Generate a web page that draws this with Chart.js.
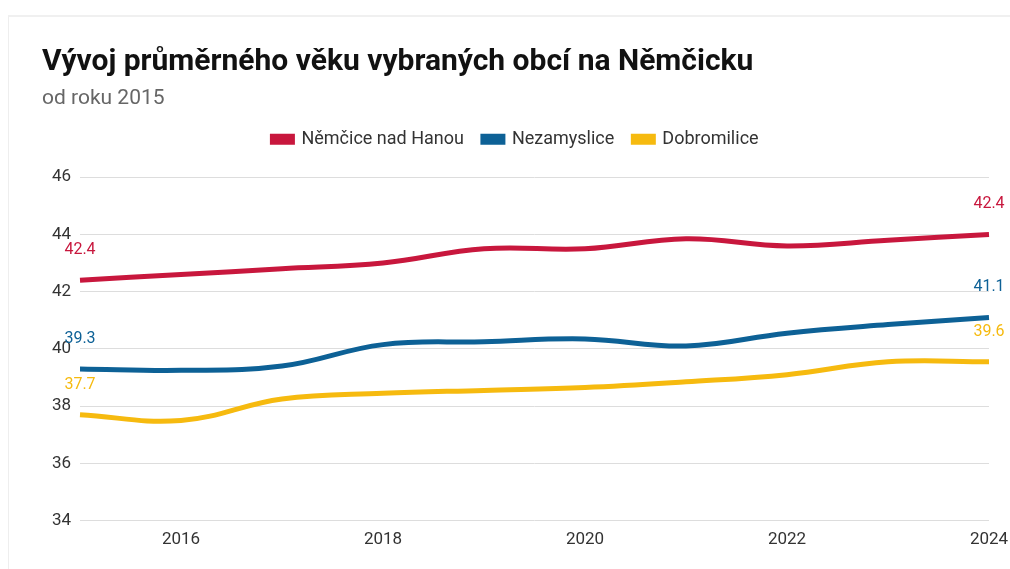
<!DOCTYPE html>
<html>
<head>
<meta charset="utf-8">
<script src="https://cdn.jsdelivr.net/npm/chart.js@4/dist/chart.umd.min.js"></script>
<style>
  html, body { margin: 0; padding: 0; background: #fff; }
  #card {
    position: absolute; left: 8px; top: 15px; width: 1010px; height: 560px;
    border-left: 1px solid #eee; border-top: 2px solid #f0f0f0;
  }
  #wrap { position: absolute; left: 0; top: 0; width: 1010px; height: 569px; }
</style>
</head>
<body>
<div id="card"></div>
<div id="wrap"><canvas id="chart"></canvas></div>
<script>
const years = ["2015", "2016", "2017", "2018", "2019", "2020", "2021", "2022", "2023", "2024"];
const xTickLabels = ["2016", "2018", "2020", "2022", "2024"];
const yTicks = [34, 36, 38, 40, 42, 44, 46];

const nemcice = [42.4, 42.6, 42.8, 43.0, 43.5, 43.5, 43.85, 43.6, 43.8, 44.0];
const nezamyslice = [39.3, 39.25, 39.4, 40.15, 40.25, 40.35, 40.1, 40.55, 40.85, 41.1];
const dobromilice = [37.7, 37.5, 38.25, 38.45, 38.55, 38.65, 38.85, 39.1, 39.55, 39.55];

// texts shown above the first and last point of each line (as in the source)
const startLabels = ["42.4", "39.3", "37.7"];
const endLabels = ["42.4", "41.1", "39.6"];

const RED = "#c8173d";
const BLUE = "#0d6196";
const YELLOW = "#f6ba0f";

const endLabelPlugin = {
  id: "endLabels",
  afterInit(chart) {
    // extra room under the legend row
    const legend = chart.legend;
    if (!legend) return;
    const fit = legend.fit;
    legend.fit = function () {
      fit.call(this);
      this.height += 19;
    };
  },
  afterDatasetsDraw(chart) {
    const ctx = chart.ctx;
    ctx.save();
    ctx.font = "16px Roboto";
    ctx.textAlign = "center";
    ctx.textBaseline = "middle";
    chart.data.datasets.forEach((ds, i) => {
      const pts = chart.getDatasetMeta(i).data;
      const first = pts[0];
      const last = pts[pts.length - 1];
      ctx.fillStyle = ds.borderColor;
      ctx.fillText(startLabels[i], first.x, first.y - 30);
      ctx.fillText(endLabels[i], last.x, last.y - 30);
    });
    ctx.restore();
  },
};

new Chart(document.getElementById("chart"), {
  type: "line",
  data: {
    labels: years,
    datasets: [
      { label: "Němčice nad Hanou", data: nemcice, borderColor: RED, backgroundColor: RED },
      { label: "Nezamyslice", data: nezamyslice, borderColor: BLUE, backgroundColor: BLUE },
      { label: "Dobromilice", data: dobromilice, borderColor: YELLOW, backgroundColor: YELLOW },
    ],
  },
  options: {
    responsive: true,
    maintainAspectRatio: false,
    animation: false,
    layout: { padding: { left: 42, right: 21, top: 44, bottom: 10 } },
    elements: {
      line: { borderWidth: 5, tension: 0.4 },
      point: { radius: 0 },
    },
    plugins: {
      title: {
        display: true,
        text: "Vývoj průměrného věku vybraných obcí na Němčicku",
        align: "start",
        color: "#111",
        font: { family: "Roboto", size: 30, weight: "bold" },
        padding: { top: 0, bottom: 6 },
      },
      subtitle: {
        display: true,
        text: "od roku 2015",
        align: "start",
        color: "#666",
        font: { family: "Roboto", size: 21 },
        padding: { top: 0, bottom: 0 },
      },
      legend: {
        display: true,
        labels: {
          color: "#333",
          font: { family: "Roboto", size: 18 },
          boxWidth: 20,
          boxHeight: 6,
          padding: 19,
        },
      },
      tooltip: { enabled: false },
    },
    scales: {
      x: {
        grid: { display: false, drawTicks: false },
        border: { display: false },
        afterFit: (s) => { s.paddingLeft = 0; s.paddingRight = 0; },
        ticks: {
          autoSkip: false,
          maxRotation: 0,
          color: "#333",
          font: { family: "Roboto", size: 17 },
          padding: 9,
          callback: function (v) {
            const lab = this.getLabelForValue(v);
            return xTickLabels.includes(lab) ? lab : "";
          },
        },
      },
      y: {
        min: yTicks[0],
        max: yTicks[yTicks.length - 1],
        afterBuildTicks: (s) => { s.ticks = yTicks.map((v) => ({ value: v })); },
        afterFit: (s) => { s.width = 38; },
        grid: { color: "#ddd", drawTicks: false, lineWidth: 1 },
        border: { display: false },
        ticks: {
          color: "#333",
          font: { family: "Roboto", size: 17 },
          padding: 9,
        },
      },
    },
  },
  plugins: [endLabelPlugin],
});
</script>
</body>
</html>
